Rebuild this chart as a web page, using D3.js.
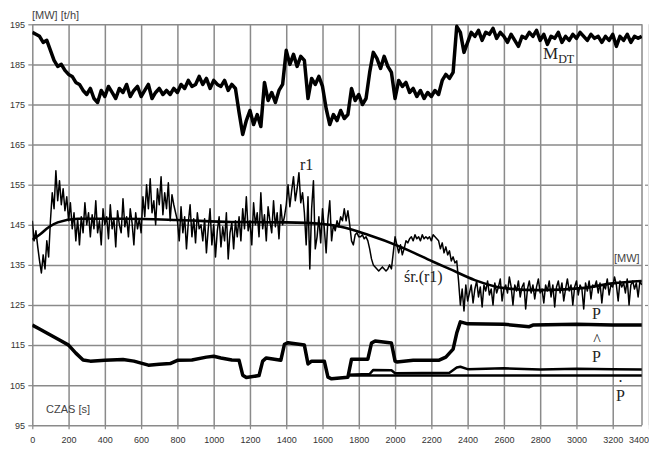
<!DOCTYPE html>
<html>
<head>
<meta charset="utf-8">
<script src="https://cdn.jsdelivr.net/npm/d3@7"></script>
<style>
  body { margin: 0; background: #fff; }
  .grid line { stroke: #8a8a8a; stroke-width: 1.5; }
  .grid path { display: none; }
  .axis path { display: none; }
  .axis line { stroke: #8a8a8a; stroke-width: 1.2; }
  .axis text { font-family: "Liberation Sans", Arial, sans-serif; font-size: 9px; fill: #333; }
  .unit { font-family: "Liberation Sans", Arial, sans-serif; font-size: 11px; fill: #444; }
  .name { font-family: "Liberation Serif", "Times New Roman", serif; font-size: 16px; fill: #222; }
  .series { fill: none; stroke: #000; stroke-linejoin: round; }
</style>
</head>
<body>
<svg id="chart" width="649" height="451"></svg>
<script>
// tick labels
const xTickValues = [0, 200, 400, 600, 800, 1000, 1200, 1400, 1600, 1800, 2000, 2200, 2400, 2600, 2800, 3000, 3200, 3400]
const yTickValues = [95, 105, 115, 125, 135, 145, 155, 165, 175, 185, 195]

// M_DT [t/h], one sample every 20 s from t = 0
const mdtStep = 20
const mdtValues = [
  193, 192.5, 192, 190.5, 191, 188.5,                  // 0-100
  186, 184.5, 185, 183.5, 182.5, 182,                  // 120-220
  180.5, 180, 178.5,                                   // 240-280
  177.5, 179, 176.5, 175.5, 178.5, 177, 179.5, 178, 176.5, 179, 178, 180,
  177, 178.5, 179.5, 177, 178.5, 180, 176.5, 178, 179, 177.5, 178.5, // 300-740
  177.5, 179, 178, 180, 179, 181, 179.5, 180,          // 760-900
  182, 180, 181.5, 179, 181, 180, 179.5, 181, 178.5, 180, 179, // 920-1120
  173, 167.5, 171, 173.5, 170, 172.5, 169.5,           // 1140-1260
  180.5, 176, 178, 175.5, 178.5, 180,                  // 1280-1380
  188.5, 185, 187.5, 184.5, 187, 186,                  // 1400-1500
  176.5, 181.5, 180, 182, 179.5,                       // 1520-1600
  174, 170, 172.5, 171, 173.5, 171.5, 172.5,           // 1620-1740
  179, 176, 177.5, 175, 176.5,                         // 1760-1840
  183, 188, 186.5, 184, 187, 184.5, 183,               // 1860-1980
  176.5, 181, 179.5, 180.5, 178, 179, 177, 178.5, 176.5, 178, 177, 178.5, 177.5, // 2000-2240
  181, 182.5, 181.5, 183, 194.5, 193, 188,             // 2260-2380
  190.5, 193, 192, 193.5, 191, 193, 192.5, 194, 191.5, 193,
  192, 190.5, 192.5, 191, 189.5, 192, 191.5, 193, 192, 193.5,
  191, 192.5, 190, 192, 191.5, 193, 190.5, 192, 191, 192.5,
  191.5, 193, 192, 191, 192.5, 191.5, 192, 190.5, 192, 191,
  192.5, 189.5, 192, 191, 192.5, 190.5, 192, 191.5, 192  // 2400-3360
]

// r1 [MW], one sample every 10 s from t = 0
const r1Step = 10
const r1Values = [
  146, 141, 143.5, 139.5,                               // 0-30
  136, 133, 137.5, 134,                                 // 40-70
  141, 137, 146,                                        // 80-100
  153, 149, 158.5,                                      // 110-130
  151, 156, 150, 154, 148.5,                            // 140-180
  152, 146, 150.5,                                      // 190-210
  144, 148, 141, 146.5, 140,                            // 220-260
  147, 143, 150.5, 145,                                 // 270-300
  148, 142, 147.5, 144, 151, 143, 146, 140, 149, 145,
  147, 141.5, 150, 144, 146.5, 139.5, 148.5, 145, 143, 151.5,
  144.5, 147, 142, 149, 145.5, 140, 148, 144, 146.5, 143, // 310-600
  152, 147, 155, 149, 156.5, 148, 151, 145, 154, 150,
  157, 147.5, 153, 149, 155.5, 146, 152.5, 150, 148,     // 610-790
  146, 141, 149.5, 143, 147, 139, 145.5, 150, 142, 146.5, 140.5, 148, 144, 145, // 800-930
  141, 146.5, 138, 144, 149, 140, 145, 137, 143.5, 147,
  139.5, 144.5, 141, 148, 136.5, 143, 145.5, 139, 146, 142, // 940-1130
  147, 141, 149, 144, 152, 143.5, 146, 140, 150.5, 145,
  148, 142, 153, 144, 147.5, 141, 149.5, 146, 143, 151,
  144.5, 148, 141.5, 150, 145, 147,                      // 1140-1390
  150, 155, 149.5, 153.5, 157, 151, 154, 158, 150.5, 153, 148, // 1400-1500
  140, 152, 134, 149, 156, 139,                          // 1510-1560
  142, 147, 140.5, 149, 144, 138, 146.5, 151, 141, 145, 143.5, // 1570-1670
  146, 144.5, 147, 146, 149, 146, 148.5,                 // 1680-1740
  145, 141, 140, 142.5, 143, 142,                        // 1750-1800
  142, 142.5, 141.5, 142, 141,                           // 1810-1850
  139, 136.5, 135, 134.5,                                // 1860-1890
  134, 133.5, 134, 134.5, 134, 133.5, 134, 135, 134,     // 1900-1980
  138, 142, 140,                                         // 1990-2010
  138, 140, 137.5, 139, 141, 140.5,                      // 2020-2070
  141.5, 142, 141, 142.5, 141.5, 142, 141, 142.5, 141.5, 142,
  141.5, 142, 141, 142.5, 142, 141.5, 141,               // 2080-2240
  139, 140.5, 138, 139.5, 137.5, 138.5, 136, 137, 135.5, 136, // 2250-2340
  131, 125, 129, 123.5, 130, 126,                        // 2350-2400
  128, 130, 125.5, 129, 131, 127, 129.5, 124.5, 130, 128.5,
  131, 127.5, 129, 125, 130.5, 128, 129.5, 131.5, 126, 129,
  130, 128, 132, 129.5, 125, 130, 128.5, 131, 127, 129.5,
  130.5, 124, 129, 131, 128, 130, 126.5, 129.5, 131.5, 128,
  129, 125.5, 130, 128.5, 131, 127, 130, 124.5, 129.5, 131,
  128, 130.5, 126, 129, 131.5, 128.5, 130, 125, 129.5, 131,
  127.5, 130, 129, 124, 130.5, 128.5, 131, 126.5, 130, 129.5,
  131, 128, 130.5, 125.5, 130, 129, 131.5, 127.5, 130, 129.5,
  132, 130, 126, 131, 129.5, 130.5, 128, 131.5, 125, 130,
  131, 129, 130.5, 127, 131, 130                         // 2410-3360
]

// śr.(r1) moving average
const srTimes = [0, 40, 90, 140, 250, 500, 800, 1100, 1400, 1600, 1700, 1850, 2030, 2210, 2300, 2440, 2600, 2800, 3030, 3200, 3360]
const srValues = [141.3, 142.5, 144.4, 145.6, 146.5, 146.5, 146.2, 145.7, 145.6, 145.2, 144.5, 142.5, 139.5, 135.8, 134, 131.2, 129.2, 128.7, 129.2, 130.4, 131]

// P [MW]
const pTimes = [0, 40, 80, 120, 160, 200, 240, 280, 320, 400, 500, 560, 600, 640, 700, 760, 800, 880, 960, 1000, 1040, 1100, 1140,
  1160, 1180, 1250, 1270, 1290, 1370, 1390, 1410, 1500, 1520, 1540, 1610, 1630, 1650, 1740, 1760, 1850, 1870, 1890, 1980,
  2000, 2010, 2100, 2240, 2280, 2320, 2340, 2360, 2400, 2600, 2740, 2760, 3000, 3200, 3360]
const pValues = [120, 119, 118, 117, 116, 115, 113, 111.3, 111, 111.2, 111.4, 111, 110.5, 110, 110.2, 110.4, 111.2, 111.3, 112, 112.2, 111.8, 111.3, 111.2,
  107.5, 106.9, 107.4, 111, 111.8, 111.2, 115.2, 115.6, 115, 110.3, 111, 111, 107, 106.6, 107, 111.5, 111.5, 115.5, 116, 115.5,
  111, 110.8, 111.2, 111.2, 112, 114, 118, 120.8, 120.3, 120.2, 119.6, 120, 120.2, 120, 120]

// P^ (estimated power)
const pHatTimes = [1740, 1860, 1880, 1980, 2000, 2300, 2340, 2360, 2400, 2600, 2800, 3000, 3200, 3360]
const pHatValues = [107.6, 107.8, 108.8, 108.7, 108, 108.1, 109.4, 109.6, 109, 109.2, 108.9, 109.1, 109, 108.9]

// P dot
const pDotTimes = [1740, 2400, 3360]
const pDotValues = [107.4, 107.4, 107.4]

const svg = d3.select('#chart')
const plotLeft = 32.3, plotTop = 24.3, plotBottom = 425.3, plotRight = 642

const x = d3.scaleLinear().domain([0, 3400]).range([plotLeft, 649])
const y = d3.scaleLinear().domain([95, 195]).range([plotBottom, plotTop])

// grid
svg.append('g')
  .attr('class', 'grid')
  .attr('transform', 'translate(0,' + plotBottom + ')')
  .call(d3.axisBottom(x).tickValues(xTickValues).tickSize(-(plotBottom - plotTop)).tickFormat(''))

svg.append('g')
  .attr('class', 'grid')
  .attr('transform', 'translate(' + plotLeft + ',0)')
  .call(d3.axisLeft(y).tickValues(yTickValues).tickSize(-(plotRight - plotLeft)).tickFormat(''))

svg.append('line')
  .attr('x1', plotRight).attr('x2', plotRight)
  .attr('y1', plotTop).attr('y2', plotBottom)
  .attr('stroke', '#8a8a8a').attr('stroke-width', 1.5)

// axes
const xAxis = svg.append('g')
  .attr('class', 'axis')
  .attr('transform', 'translate(0,' + plotBottom + ')')
  .call(d3.axisBottom(x).tickValues(xTickValues).tickFormat(d3.format('d')).tickSize(4).tickPadding(7.8))

// last label sits on the window edge, keep it inside
xAxis.selectAll('.tick text')
  .filter(d => d === 3400)
  .attr('text-anchor', 'end')
  .attr('x', -0.5)

svg.append('g')
  .attr('class', 'axis')
  .attr('transform', 'translate(' + plotLeft + ',0)')
  .call(d3.axisLeft(y).tickValues(yTickValues).tickFormat(d3.format('d')).tickSize(4).tickPadding(3.3))

svg.append('g')
  .attr('class', 'axis')
  .attr('transform', 'translate(645,0)')
  .call(d3.axisRight(y).tickValues([125, 135, 145, 155]).tickSize(3).tickFormat(''))

// series
svg.append('clipPath').attr('id', 'plot-clip')
  .append('rect')
  .attr('x', plotLeft).attr('y', plotTop - 4)
  .attr('width', plotRight - plotLeft).attr('height', plotBottom - plotTop + 4)

const plot = svg.append('g').attr('clip-path', 'url(#plot-clip)')

const mdtLine = d3.line()
  .x((d, i) => x(i * mdtStep))
  .y(d => y(d))

const r1Line = d3.line()
  .x((d, i) => x(i * r1Step))
  .y(d => y(d))

const pairLine = d3.line()
  .x(d => x(d[0]))
  .y(d => y(d[1]))

const smoothLine = d3.line()
  .x(d => x(d[0]))
  .y(d => y(d[1]))
  .curve(d3.curveMonotoneX)

plot.append('path')
  .datum(r1Values)
  .attr('class', 'series')
  .attr('stroke-width', 1.5)
  .attr('d', r1Line)

plot.append('path')
  .datum(d3.zip(srTimes, srValues))
  .attr('class', 'series')
  .attr('stroke-width', 2.6)
  .attr('d', smoothLine)

plot.append('path')
  .datum(mdtValues)
  .attr('class', 'series')
  .attr('stroke-width', 3.5)
  .attr('d', mdtLine)

plot.append('path')
  .datum(d3.zip(pDotTimes, pDotValues))
  .attr('class', 'series')
  .attr('stroke-width', 2.5)
  .attr('d', pairLine)

plot.append('path')
  .datum(d3.zip(pHatTimes, pHatValues))
  .attr('class', 'series')
  .attr('stroke-width', 2.5)
  .attr('d', pairLine)

plot.append('path')
  .datum(d3.zip(pTimes, pValues))
  .attr('class', 'series')
  .attr('stroke-width', 3.5)
  .attr('d', pairLine)

// texts
svg.append('text').attr('class', 'unit').attr('x', 32).attr('y', 19).text('[MW] [t/h]')
svg.append('text').attr('class', 'unit').attr('x', 46).attr('y', 413).text('CZAS [s]')
svg.append('text').attr('class', 'unit').attr('x', 614).attr('y', 262).text('[MW]')

svg.append('text').attr('class', 'name').attr('x', 300).attr('y', 170).text('r1')
svg.append('text').attr('class', 'name').attr('x', 404).attr('y', 282).text('śr.(r1)')

const mdt = svg.append('text').attr('class', 'name').attr('x', 543).attr('y', 59).attr('fill', '#333')
mdt.append('tspan').attr('font-size', 17).text('M')
mdt.append('tspan').attr('font-size', 12).attr('dy', 4).text('DT')

svg.append('text').attr('class', 'name').attr('x', 592).attr('y', 319).text('P')

// P with a hat, the hat set a little above the letter
svg.append('text').attr('class', 'name').attr('x', 597).attr('y', 345)
  .attr('text-anchor', 'middle').attr('font-size', 9).text('^')
svg.append('text').attr('class', 'name').attr('x', 592).attr('y', 362).text('P')

// P with a dot
svg.append('text').attr('class', 'name').attr('x', 620.5).attr('y', 382)
  .attr('text-anchor', 'middle').attr('font-size', 11).text('.')
svg.append('text').attr('class', 'name').attr('x', 616).attr('y', 401).text('P')
</script>
</body>
</html>
